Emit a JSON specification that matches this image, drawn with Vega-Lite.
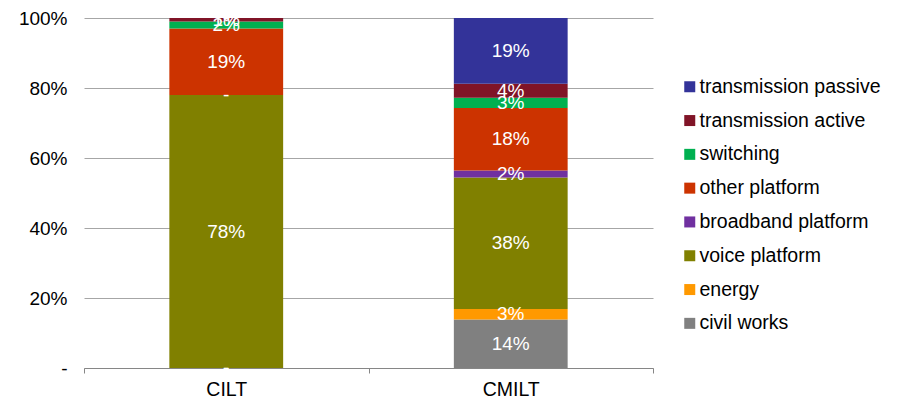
{
  "$schema": "https://vega.github.io/schema/vega-lite/v6.json",
  "width": 569,
  "height": 350,
  "autosize": {"type": "none"},
  "padding": {"left": 84, "top": 18, "right": 248, "bottom": 33},
  "background": "white",
  "config": {
    "font": "Liberation Sans",
    "view": {"stroke": null}
  },
  "data": {
    "values": [
      {"tech": "CILT", "segment": "civil works", "value": 0},
      {"tech": "CILT", "segment": "energy", "value": 0},
      {"tech": "CILT", "segment": "voice platform", "value": 0.78},
      {"tech": "CILT", "segment": "broadband platform", "value": 0},
      {"tech": "CILT", "segment": "other platform", "value": 0.19},
      {"tech": "CILT", "segment": "switching", "value": 0.02},
      {"tech": "CILT", "segment": "transmission active", "value": 0.01},
      {"tech": "CILT", "segment": "transmission passive", "value": 0},
      {"tech": "CMILT", "segment": "civil works", "value": 0.14},
      {"tech": "CMILT", "segment": "energy", "value": 0.03},
      {"tech": "CMILT", "segment": "voice platform", "value": 0.38},
      {"tech": "CMILT", "segment": "broadband platform", "value": 0.02},
      {"tech": "CMILT", "segment": "other platform", "value": 0.18},
      {"tech": "CMILT", "segment": "switching", "value": 0.03},
      {"tech": "CMILT", "segment": "transmission active", "value": 0.04},
      {"tech": "CMILT", "segment": "transmission passive", "value": 0.19}
    ]
  },
  "transform": [
    {"calculate": "indexof(['civil works','energy','voice platform','broadband platform','other platform','switching','transmission active','transmission passive'], datum.segment)", "as": "layer"},
    {"stack": "value", "groupby": ["tech"], "sort": [{"field": "layer", "order": "ascending"}], "offset": "normalize", "as": ["y0", "y1"]},
    {"calculate": "(datum.y0 + datum.y1) / 2", "as": "ymid"}
  ],
  "encoding": {
    "x": {
      "field": "tech",
      "type": "nominal",
      "scale": {"paddingInner": 0, "paddingOuter": 0},
      "axis": {
        "title": null,
        "labelAngle": 0,
        "tickBand": "extent",
        "domainColor": "#868686",
        "tickColor": "#868686",
        "tickSize": 5,
        "labelFontSize": 19.5,
        "labelColor": "#000000",
        "labelPadding": 7,
        "grid": false
      }
    }
  },
  "layer": [
    {
      "mark": {"type": "bar", "width": {"band": 0.4}},
      "encoding": {
        "y": {
          "field": "y0",
          "type": "quantitative",
          "scale": {"domain": [0, 1], "nice": false},
          "axis": {
            "title": null,
            "values": [0, 0.2, 0.4, 0.6, 0.8, 1],
            "labelExpr": "datum.value === 0 ? '-' : format(datum.value, '.0%')",
            "grid": true,
            "gridColor": "#a6a6a6",
            "domain": false,
            "ticks": false,
            "labelFontSize": 19,
            "labelColor": "#000000",
            "labelPadding": 17
          }
        },
        "y2": {"field": "y1"},
        "color": {
          "field": "segment",
          "type": "nominal",
          "scale": {
            "domain": ["transmission passive", "transmission active", "switching", "other platform", "broadband platform", "voice platform", "energy", "civil works"],
            "range": ["#333399", "#801427", "#00b050", "#cc3300", "#7030a0", "#808000", "#ff9900", "#808080"]
          },
          "legend": {
            "title": null,
            "orient": "none",
            "legendX": 596,
            "legendY": 59,
            "symbolType": "square",
            "symbolSize": 121,
            "symbolStrokeWidth": 0,
            "labelFontSize": 19.5,
            "labelColor": "#000000",
            "labelOffset": 0,
            "labelLimit": 260,
            "rowPadding": 12.8,
            "padding": 0
          }
        }
      }
    },
    {
      "mark": {"type": "text", "color": "white", "fontSize": 19, "baseline": "middle"},
      "encoding": {
        "y": {"field": "ymid", "type": "quantitative", "stack": null},
        "text": {
          "condition": {"test": "datum.value === 0", "value": "-"},
          "field": "value",
          "type": "quantitative",
          "format": ".0%"
        }
      }
    }
  ]
}
